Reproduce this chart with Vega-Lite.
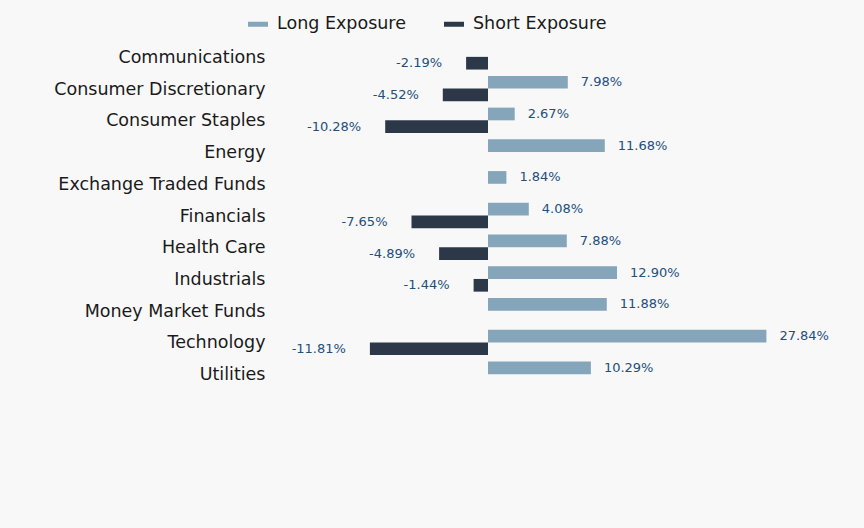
{
  "$schema": "https://vega.github.io/schema/vega-lite/v6.json",
  "autosize": {"type": "none"},
  "width": 575,
  "height": 349,
  "padding": {"left": 275, "top": 41, "right": 14, "bottom": 138},
  "background": "#f8f8f8",
  "config": {
    "view": {"stroke": null},
    "font": "DejaVu Sans"
  },
  "data": {
    "values": [
      {"sector": "Communications", "exposure": "Short Exposure", "value": -2.19},
      {"sector": "Consumer Discretionary", "exposure": "Long Exposure", "value": 7.98},
      {"sector": "Consumer Discretionary", "exposure": "Short Exposure", "value": -4.52},
      {"sector": "Consumer Staples", "exposure": "Long Exposure", "value": 2.67},
      {"sector": "Consumer Staples", "exposure": "Short Exposure", "value": -10.28},
      {"sector": "Energy", "exposure": "Long Exposure", "value": 11.68},
      {"sector": "Exchange Traded Funds", "exposure": "Long Exposure", "value": 1.84},
      {"sector": "Financials", "exposure": "Long Exposure", "value": 4.08},
      {"sector": "Financials", "exposure": "Short Exposure", "value": -7.65},
      {"sector": "Health Care", "exposure": "Long Exposure", "value": 7.88},
      {"sector": "Health Care", "exposure": "Short Exposure", "value": -4.89},
      {"sector": "Industrials", "exposure": "Long Exposure", "value": 12.90},
      {"sector": "Industrials", "exposure": "Short Exposure", "value": -1.44},
      {"sector": "Money Market Funds", "exposure": "Long Exposure", "value": 11.88},
      {"sector": "Technology", "exposure": "Long Exposure", "value": 27.84},
      {"sector": "Technology", "exposure": "Short Exposure", "value": -11.81},
      {"sector": "Utilities", "exposure": "Long Exposure", "value": 10.29}
    ]
  },
  "transform": [
    {"calculate": "(datum.value < 0 ? '-' : '') + format(abs(datum.value), '.2f') + '%'", "as": "label"}
  ],
  "encoding": {
    "y": {
      "field": "sector",
      "type": "nominal",
      "sort": null,
      "scale": {
        "domain": ["Communications", "Consumer Discretionary", "Consumer Staples", "Energy", "Exchange Traded Funds", "Financials", "Health Care", "Industrials", "Money Market Funds", "Technology", "Utilities"],
        "paddingInner": 0.2,
        "paddingOuter": 0.1
      },
      "axis": {
        "title": null,
        "domain": false,
        "ticks": false,
        "grid": false,
        "labelPadding": 10,
        "labelFontSize": 17.5,
        "labelColor": "#1a1a1a",
        "labelLimit": 300,
        "labelOffset": 1
      }
    },
    "yOffset": {
      "field": "exposure",
      "type": "nominal",
      "scale": {"domain": ["Long Exposure", "Short Exposure"], "paddingInner": 0, "paddingOuter": 0}
    },
    "x": {
      "field": "value",
      "type": "quantitative",
      "scale": {"domain": [-21.3, 36.2], "nice": false, "zero": false},
      "axis": null
    }
  },
  "layer": [
    {
      "mark": {"type": "bar"},
      "encoding": {
        "color": {
          "field": "exposure",
          "type": "nominal",
          "scale": {"domain": ["Long Exposure", "Short Exposure"], "range": ["#85a6ba", "#2c3848"]},
          "legend": {
            "title": null,
            "orient": "none",
            "direction": "horizontal",
            "legendX": -27,
            "legendY": -27,
            "symbolType": "M-1,-0.25H1V0.25H-1Z",
            "symbolSize": 400,
            "symbolStrokeWidth": 0,
            "labelFontSize": 17.5,
            "labelColor": "#1a1a1a",
            "labelOffset": 9,
            "columnPadding": 38,
            "labelLimit": 300
          }
        }
      }
    },
    {
      "transform": [{"filter": "datum.value > 0"}],
      "mark": {"type": "text", "align": "left", "baseline": "middle", "dx": 13, "fontSize": 13, "color": "#234f7a"},
      "encoding": {"text": {"field": "label"}}
    },
    {
      "transform": [{"filter": "datum.value < 0"}],
      "mark": {"type": "text", "align": "right", "baseline": "middle", "dx": -24, "fontSize": 13, "color": "#234f7a"},
      "encoding": {"text": {"field": "label"}}
    }
  ]
}
